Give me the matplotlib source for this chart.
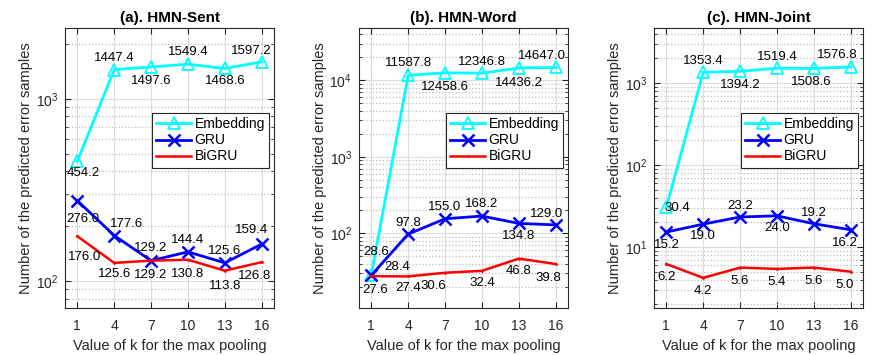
import matplotlib
matplotlib.use("Agg")
import matplotlib.pyplot as plt
from matplotlib.ticker import LogLocator, LogFormatterMathtext, NullFormatter

plt.rcParams['font.family'] = ['Liberation Sans', 'DejaVu Sans']
plt.rcParams['mathtext.fontset'] = 'custom'
plt.rcParams['mathtext.rm'] = 'Liberation Sans'

k_values = [1, 4, 7, 10, 13, 16]
titles = ["(a). HMN-Sent", "(b). HMN-Word", "(c). HMN-Joint"]
series_names = ["Embedding", "GRU", "BiGRU"]

sent_embedding = [454.2, 1447.4, 1497.6, 1549.4, 1468.6, 1597.2]
sent_gru = [276.0, 177.6, 129.2, 144.4, 125.6, 159.4]
sent_bigru = [176.0, 125.6, 129.2, 130.8, 113.8, 126.8]

word_embedding = [28.6, 11587.8, 12458.6, 12346.8, 14436.2, 14647.0]
word_gru = [28.4, 97.8, 155.0, 168.2, 134.8, 129.0]
word_bigru = [27.6, 27.4, 30.6, 32.4, 46.8, 39.8]

joint_embedding = [30.4, 1353.4, 1394.2, 1519.4, 1508.6, 1576.8]
joint_gru = [15.2, 19.0, 23.2, 24.0, 19.2, 16.2]
joint_bigru = [6.2, 4.2, 5.6, 5.4, 5.6, 5.0]

panels = [
    (sent_embedding, sent_gru, sent_bigru),
    (word_embedding, word_gru, word_bigru),
    (joint_embedding, joint_gru, joint_bigru),
]
ylims = [(71, 2450), (10.6, 48000), (1.8, 4700)]

# label offsets in pixels (dx, dy) per panel, per series, per point
offsets = [
    [
        [(6, -12), (0, 12), (0, -14), (0, 12), (0, -13), (-10, 11)],
        [(6, -18), (12, 12), (0, 13), (0, 12), (0, 12), (-10, 14)],
        [(7, -21), (0, -11), (0, -14), (0, -14), (0, -15), (-7, -14)],
    ],
    [
        [(5, 23), (0, 12), (0, -14), (0, 11), (0, -15), (-14, 11)],
        [(26, 8), (0, 11), (0, 12), (0, 12), (0, -13), (-9, 11)],
        [(4, -14), (0, -12), (-12, -13), (0, -12), (0, -12), (-7, -14)],
    ],
    [
        [(11, -1), (0, 11), (0, -14), (0, 11), (-3, -14), (-13, 12)],
        [(1, -13), (0, -12), (0, 11), (0, -12), (0, 11), (-6, -13)],
        [(0, -13), (0, -13), (0, -13), (0, -13), (0, -13), (-6, -13)],
    ],
]

axes_px = [(65, 274), (359, 568), (654, 863)]
W, H = 895, 355
top_px, bot_px = 28, 308

fig = plt.figure(figsize=(8.95, 3.55), dpi=100)
text_color = '#262626'

styles = [
    dict(color='#00FFFF', marker='^', markersize=8, markerfacecolor='none', markeredgewidth=1.3, linewidth=2),
    dict(color='#0000FF', marker='x', markersize=8, markeredgewidth=1.8, linewidth=2),
    dict(color='#FF0000', marker='.', markersize=2, linewidth=1.8),
]

for i, (data, title) in enumerate(zip(panels, titles)):
    l, r = axes_px[i]
    ax = fig.add_axes([l / W, 1 - bot_px / H, (r - l) / W, (bot_px - top_px) / H])
    for j, (vals, name) in enumerate(zip(data, series_names)):
        ax.plot(k_values, vals, label=name, **styles[j])
        for kk, v, off in zip(k_values, vals, offsets[i][j]):
            ax.annotate(f"{v:.1f}", (kk, v), xytext=off, textcoords='offset pixels',
                        ha='center', va='center', fontsize=9.5, color='black')
    ax.set_yscale('log')
    ax.set_ylim(*ylims[i])
    ax.set_xlim(0, 17)
    ax.set_xticks(k_values)
    ax.yaxis.set_major_locator(LogLocator(base=10))
    ax.yaxis.set_major_formatter(LogFormatterMathtext())
    ax.yaxis.set_minor_locator(LogLocator(base=10, subs=range(2, 10)))
    ax.yaxis.set_minor_formatter(NullFormatter())
    ax.grid(True, which='major', color='#DCDCDC', linestyle='-', linewidth=0.8)
    ax.grid(True, which='minor', axis='y', color='#BEBEBE', linestyle=':', linewidth=0.9)
    ax.set_axisbelow(True)
    ax.tick_params(which='both', direction='in', top=True, right=True, colors=text_color,
                   labelsize=10)
    ax.tick_params(axis='x', which='major', pad=8)
    ax.tick_params(axis='y', which='major', pad=5)
    ax.tick_params(which='major', length=4)
    ax.tick_params(which='minor', length=2)
    for s in ax.spines.values():
        s.set_color(text_color)
        s.set_linewidth(0.8)
    ax.set_title(title, fontsize=11, fontweight='bold', color='black', pad=4)
    ax.set_xlabel("Value of k for the max pooling", fontsize=10.5, color=text_color, labelpad=4)
    ax.set_ylabel("Number of the predicted error samples", fontsize=10.5, color=text_color, labelpad=2)
    leg = ax.legend(loc='upper right', bbox_to_anchor=(0.976, 0.696), borderaxespad=0,
                    fontsize=10, frameon=True, fancybox=False, edgecolor=text_color, framealpha=1,
                    handlelength=2.5, borderpad=0.3, labelspacing=0.15, handletextpad=0.25)
    leg.get_frame().set_linewidth(0.8)

fig.savefig("out.png", dpi=100)
